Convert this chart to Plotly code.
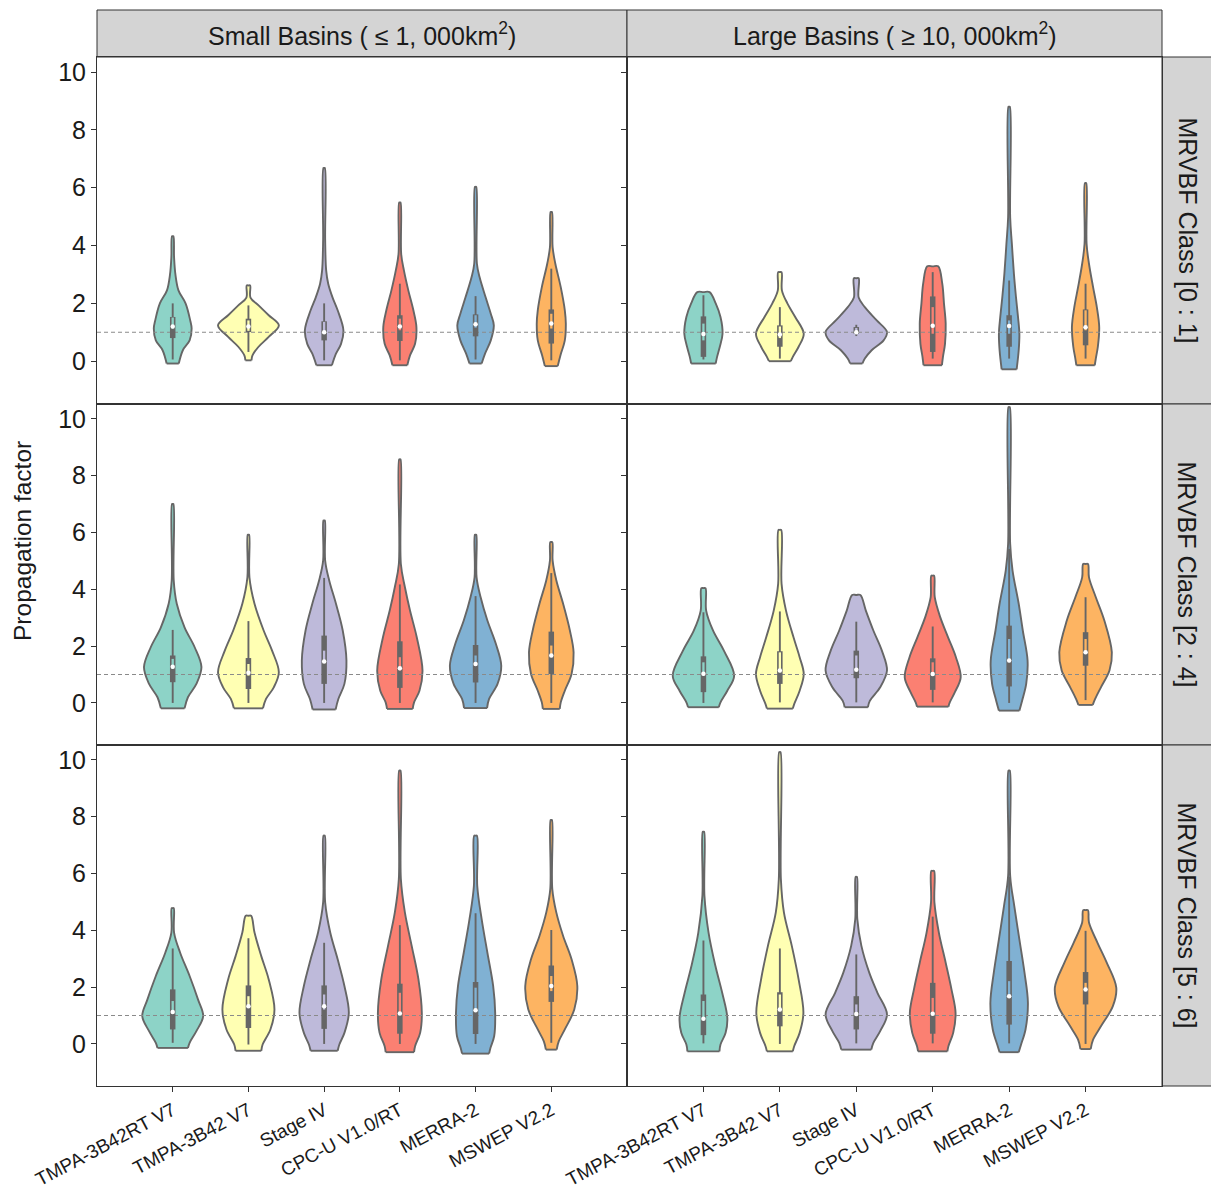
import plotly.graph_objects as go

# ---------------------------------------------------------------------------
# Data: propagation factor distributions per product, basin size and MRVBF class
# ---------------------------------------------------------------------------
PRODUCTS = ["TMPA-3B42RT V7", "TMPA-3B42 V7", "Stage IV", "CPC-U V1.0/RT", "MERRA-2", "MSWEP V2.2"]
FILLS = ["#8DD3C7", "#FFFFB3", "#BEBADA", "#FB8072", "#80B1D3", "#FDB462"]
BASIN_LABELS = ["Small Basins ( \u2264 1, 000km<sup>2</sup>)", "Large Basins ( \u2265 10, 000km<sup>2</sup>)"]
CLASS_LABELS = ["MRVBF Class [0 : 1]", "MRVBF Class [2 : 4]", "MRVBF Class [5 : 6]"]
Y_TICKS = [0, 2, 4, 6, 8, 10]
REFERENCE_LEVEL = 1.0

# density knots (value levels, bottom to top) and relative kernel density at each level
small_01_y = [
    [-0.08, 0.38, 0.72, 1.13, 1.4, 2.0, 2.45, 3.0, 3.6, 4.32],
    [0.03, 0.2, 0.5, 0.84, 1.24, 1.59, 1.93, 2.2, 2.62],
    [-0.14, 0.26, 0.6, 1.07, 1.76, 2.2, 2.68, 3.14, 4.2, 6.68],
    [-0.14, 0.2, 0.6, 1.18, 1.76, 2.45, 3.14, 3.7, 5.49],
    [-0.08, 0.26, 0.72, 1.24, 1.64, 2.2, 2.9, 3.37, 6.03],
    [-0.17, 0.2, 0.72, 1.3, 1.76, 2.56, 3.37, 3.94, 5.16],
]
small_01_d = [
    [18, 30, 50, 56, 52, 38, 17, 8, 4, 2],
    [9, 12, 30, 60, 90, 60, 30, 6, 5],
    [23, 35, 50, 57, 40, 25, 12, 6, 3, 2],
    [22, 30, 45, 49, 40, 25, 12, 4, 2],
    [18, 28, 45, 54, 45, 30, 12, 4, 2],
    [19, 27, 40, 43, 40, 28, 12, 4, 2],
]
large_01_y = [
    [-0.08, 0.15, 0.5, 0.95, 1.53, 2.0, 2.39],
    [0.0, 0.15, 0.5, 0.95, 1.53, 2.0, 2.45, 3.08],
    [-0.08, 0.09, 0.38, 0.72, 1.01, 1.41, 1.87, 2.2, 2.87],
    [-0.14, 0.15, 0.6, 1.3, 2.0, 2.68, 3.28],
    [-0.28, 0.38, 0.95, 1.53, 2.22, 3.02, 4.06, 4.98, 8.8],
    [-0.14, 0.09, 0.5, 1.18, 1.87, 2.56, 3.37, 4.06, 6.16],
]
large_01_d = [
    [36, 40, 48, 56, 50, 36, 18],
    [32, 38, 55, 70, 45, 22, 6, 5],
    [18, 25, 45, 80, 90, 60, 25, 7, 7],
    [27, 30, 36, 38, 33, 28, 16],
    [22, 28, 30, 26, 20, 14, 8, 3, 2],
    [27, 30, 36, 40, 33, 22, 10, 3, 2],
]
small_24_y = [
    [-0.19, 0.2, 0.67, 1.26, 1.96, 2.66, 3.49, 4.31, 7.0],
    [-0.19, 0.14, 0.55, 1.08, 1.84, 2.55, 3.49, 4.42, 5.92],
    [-0.23, 0.14, 0.67, 1.49, 2.55, 3.49, 4.31, 5.01, 6.42],
    [-0.21, 0.02, 0.43, 1.14, 2.31, 3.25, 4.07, 4.89, 8.57],
    [-0.18, 0.14, 0.67, 1.31, 2.08, 2.9, 3.72, 4.42, 5.92],
    [-0.21, 0.02, 0.43, 1.02, 1.78, 2.55, 3.49, 4.31, 5.01, 5.66],
]
small_24_d = [
    [35, 45, 70, 85, 65, 35, 12, 3, 2],
    [43, 52, 75, 90, 70, 45, 18, 3, 2],
    [34, 42, 60, 66, 55, 35, 15, 3, 2],
    [38, 42, 58, 67, 50, 30, 15, 3, 2],
    [34, 40, 65, 76, 60, 35, 15, 3, 2],
    [25, 28, 40, 60, 66, 55, 35, 15, 4, 3],
]
large_24_y = [
    [-0.15, 0.02, 0.43, 0.96, 1.84, 2.55, 3.25, 4.04],
    [-0.2, -0.04, 0.43, 1.02, 1.61, 2.31, 3.25, 4.19, 6.09],
    [-0.15, 0.08, 0.55, 1.14, 1.84, 2.55, 3.25, 3.8],
    [-0.13, 0.02, 0.38, 0.9, 1.61, 2.31, 3.02, 3.72, 4.48],
    [-0.27, 0.08, 0.67, 1.49, 2.55, 3.49, 4.66, 5.6, 10.41],
    [-0.07, 0.14, 0.55, 1.14, 1.78, 2.9, 3.72, 4.42, 4.89],
]
large_24_d = [
    [45, 50, 70, 90, 60, 28, 8, 6],
    [38, 42, 58, 70, 58, 40, 18, 5, 4],
    [34, 40, 70, 90, 75, 50, 28, 12],
    [46, 50, 65, 82, 68, 45, 22, 6, 4],
    [30, 38, 50, 54, 40, 28, 10, 3, 2],
    [21, 28, 45, 70, 77, 55, 30, 10, 7],
]
small_56_y = [
    [-0.14, 0.04, 0.45, 0.98, 1.56, 2.39, 3.21, 3.92, 4.78],
    [-0.24, -0.02, 0.51, 1.21, 2.27, 3.09, 3.92, 4.51],
    [-0.24, -0.02, 0.39, 1.09, 2.04, 2.98, 3.92, 4.98, 7.33],
    [-0.29, -0.08, 0.39, 1.09, 2.27, 3.45, 4.62, 5.8, 9.62],
    [-0.34, -0.14, 0.27, 1.09, 2.04, 3.21, 4.39, 5.56, 7.33],
    [-0.2, 0.09, 0.51, 1.21, 2.04, 2.98, 3.8, 4.62, 5.45, 7.88],
]
small_56_d = [
    [45, 50, 70, 90, 75, 50, 22, 4, 3],
    [38, 42, 65, 77, 60, 38, 18, 8],
    [40, 45, 60, 73, 60, 40, 18, 3, 2],
    [42, 45, 60, 65, 55, 35, 15, 3, 2],
    [40, 44, 55, 58, 52, 35, 18, 5, 4],
    [16, 22, 40, 68, 77, 60, 35, 15, 3, 2],
]
large_56_y = [
    [-0.26, -0.02, 0.39, 0.92, 1.8, 2.75, 3.92, 5.21, 7.47],
    [-0.26, -0.08, 0.39, 1.09, 2.27, 3.45, 4.62, 5.8, 10.27],
    [-0.2, 0.04, 0.45, 1.04, 1.8, 2.51, 3.45, 4.39, 5.88],
    [-0.26, -0.08, 0.39, 1.09, 1.92, 2.86, 3.92, 4.98, 6.09],
    [-0.29, -0.02, 0.51, 1.45, 2.51, 3.68, 4.86, 5.92, 9.62],
    [-0.18, 0.15, 0.62, 1.33, 1.98, 2.86, 3.56, 4.27, 4.71],
]
large_56_d = [
    [47, 50, 65, 70, 55, 35, 15, 3, 2],
    [38, 42, 58, 69, 55, 35, 12, 3, 2],
    [44, 50, 70, 90, 62, 38, 15, 3, 2],
    [43, 46, 60, 67, 55, 38, 18, 5, 4],
    [28, 35, 48, 55, 45, 30, 15, 3, 2],
    [15, 22, 45, 80, 90, 62, 35, 10, 7],
]

# box summaries: (whisker low, Q1, median, Q3, whisker high, notch low, notch high)
small_01_stats = [
    (0.06, 0.80, 1.20, 1.53, 2.00, 1.13, 1.51),
    (0.32, 1.01, 1.20, 1.47, 1.93, 1.05, 1.41),
    (0.03, 0.72, 1.00, 1.38, 2.00, 0.95, 1.36),
    (0.03, 0.70, 1.20, 1.59, 2.68, 1.07, 1.47),
    (0.06, 0.86, 1.28, 1.62, 2.25, 1.16, 1.59),
    (0.03, 0.61, 1.30, 1.79, 3.20, 1.13, 1.64),
]
large_01_stats = [
    (0.06, 0.15, 0.94, 1.55, 2.28, 0.72, 1.30),
    (0.09, 0.50, 0.92, 1.24, 1.87, 0.80, 1.20),
    (0.87, 0.95, 1.00, 1.18, 1.26, 0.98, 1.15),
    (0.09, 0.32, 1.23, 2.24, 3.08, 0.95, 1.87),
    (0.09, 0.50, 1.22, 1.59, 2.79, 0.95, 1.41),
    (0.09, 0.55, 1.17, 1.79, 2.68, 1.07, 1.76),
]
small_24_stats = [
    (0.00, 0.73, 1.27, 1.67, 2.57, 1.20, 1.55),
    (0.00, 0.49, 1.06, 1.58, 2.88, 0.96, 1.37),
    (0.00, 0.67, 1.46, 2.37, 4.40, 1.43, 1.84),
    (0.00, 0.53, 1.22, 2.17, 4.17, 1.14, 1.61),
    (0.00, 0.72, 1.37, 2.04, 3.76, 1.31, 1.67),
    (0.00, 1.02, 1.67, 2.51, 4.57, 1.61, 2.02),
]
large_24_stats = [
    (0.00, 0.38, 1.03, 1.64, 3.19, 0.96, 1.43),
    (0.02, 0.67, 1.14, 1.82, 3.22, 1.08, 1.78),
    (0.02, 0.87, 1.17, 1.84, 2.86, 1.14, 1.67),
    (0.02, 0.46, 1.02, 1.57, 2.69, 0.96, 1.43),
    (0.00, 0.58, 1.49, 2.72, 5.42, 1.43, 2.25),
    (0.10, 1.31, 1.78, 2.49, 3.72, 1.73, 2.25),
]
small_56_stats = [
    (0.04, 0.51, 1.12, 1.92, 3.36, 1.09, 1.51),
    (-0.02, 0.56, 1.33, 2.06, 3.72, 1.27, 1.68),
    (0.00, 0.53, 1.33, 2.06, 3.56, 1.21, 1.74),
    (0.00, 0.36, 1.07, 2.12, 4.18, 1.04, 1.80),
    (0.00, 0.35, 1.19, 2.18, 4.60, 1.15, 1.98),
    (0.04, 1.48, 2.04, 2.76, 4.01, 1.86, 2.39),
]
large_56_stats = [
    (0.02, 0.31, 0.89, 1.74, 3.64, 0.86, 1.51),
    (0.00, 0.62, 1.21, 1.82, 3.36, 1.15, 1.74),
    (0.02, 0.51, 1.05, 1.68, 3.15, 0.98, 1.39),
    (0.02, 0.36, 1.06, 2.15, 4.48, 1.04, 1.62),
    (0.02, 0.68, 1.68, 2.92, 5.88, 1.62, 2.21),
    (0.00, 1.39, 1.92, 2.53, 3.98, 1.86, 2.15),
]

# facet grid: rows = MRVBF class, cols = basin size
FACETS = [
    [(small_01_y, small_01_d, small_01_stats), (large_01_y, large_01_d, large_01_stats)],
    [(small_24_y, small_24_d, small_24_stats), (large_24_y, large_24_d, large_24_stats)],
    [(small_56_y, small_56_d, small_56_stats), (large_56_y, large_56_d, large_56_stats)],
]

# ---------------------------------------------------------------------------
# Layout geometry (pixels)
# ---------------------------------------------------------------------------
W, H = 1211, 1192
COL_PX = [(97, 627), (627, 1162)]
ROW_PX = [(57, 404), (404, 745), (745, 1086)]
STRIP_TOP_PX = (10, 57)
STRIP_RIGHT_PX = (1162, 1214)
Y_TITLE_PX = (22, 541)
Y_RANGE = [-1.48, 10.52]
X_RANGE = [-1.0, 6.0]
DENSITY_TO_HALFWIDTH = 1.0 / 224.0

OUTLINE = "#666666"
FRAME = "#333333"
TEXT = "#1a1a1a"
FONT = "Liberation Sans, Arial, sans-serif"


def px_x(p):
    return p / W


def px_y(p):
    return 1 - p / H


def outline_path(center, ys, ds):
    """Closed violin outline: right side upwards, flat top, left side downwards."""
    xr = [center + d * DENSITY_TO_HALFWIDTH for d in ds]
    xl = [center - d * DENSITY_TO_HALFWIDTH for d in reversed(ds)]
    # a centre knot on the top edge keeps a cut (flat) top from bulging
    xs = xr + [center] + xl
    yv = list(ys) + [ys[-1]] + list(reversed(ys))
    return xs, yv


fig = go.Figure()
layout_axes = {}

for r, row in enumerate(FACETS):
    for c, (levels, dens, stats) in enumerate(row):
        k = r * 2 + c + 1
        xa = "x" if k == 1 else f"x{k}"
        ya = "y" if k == 1 else f"y{k}"

        # violin bodies
        for i, (ys, ds) in enumerate(zip(levels, dens)):
            xs, yv = outline_path(i, ys, ds)
            fig.add_trace(go.Scatter(
                x=xs, y=yv, xaxis=xa, yaxis=ya, mode="lines", fill="toself",
                fillcolor=FILLS[i],
                line=dict(color=OUTLINE, width=1.9, shape="spline", smoothing=1.0),
                hoverinfo="skip", showlegend=False,
            ))
            hb = ds[0] * DENSITY_TO_HALFWIDTH
            fig.add_trace(go.Scatter(
                x=[i - hb, i + hb], y=[ys[0], ys[0]], xaxis=xa, yaxis=ya,
                mode="lines", line=dict(color=OUTLINE, width=1.9),
                hoverinfo="skip", showlegend=False,
            ))

        # reference line at a propagation factor of 1
        fig.add_trace(go.Scatter(
            x=X_RANGE, y=[REFERENCE_LEVEL, REFERENCE_LEVEL], xaxis=xa, yaxis=ya,
            mode="lines", line=dict(color="#8a8a8a", width=1.1, dash="4px,3px"),
            hoverinfo="skip", showlegend=False,
        ))

        # inner box plots
        for i, (lo, q1, med, q3, hi, nlo, nhi) in enumerate(stats):
            fig.add_trace(go.Scatter(
                x=[i, i], y=[lo, hi], xaxis=xa, yaxis=ya, mode="lines",
                line=dict(color=OUTLINE, width=1.9), hoverinfo="skip", showlegend=False,
            ))
            fig.add_trace(go.Scatter(
                x=[i, i], y=[q1, q3], xaxis=xa, yaxis=ya, mode="lines",
                line=dict(color=OUTLINE, width=5.5), hoverinfo="skip", showlegend=False,
            ))
            fig.add_trace(go.Scatter(
                x=[i, i], y=[nlo, nhi], xaxis=xa, yaxis=ya, mode="lines",
                line=dict(color=FILLS[i], width=2.3), hoverinfo="skip", showlegend=False,
            ))
            fig.add_trace(go.Scatter(
                x=[i], y=[med], xaxis=xa, yaxis=ya, mode="markers",
                marker=dict(color="white", size=4.5, line=dict(width=0)),
                hoverinfo="skip", showlegend=False,
            ))

        x0, x1 = COL_PX[c]
        y0, y1 = ROW_PX[r]
        bottom = r == len(FACETS) - 1
        layout_axes["xaxis" if k == 1 else f"xaxis{k}"] = dict(
            domain=[px_x(x0), px_x(x1)], anchor=ya, range=X_RANGE,
            automargin=False,
            showgrid=False, zeroline=False, showline=True, mirror=True,
            linecolor=FRAME, linewidth=1,
            tickmode="array", tickvals=list(range(len(PRODUCTS))), ticktext=PRODUCTS,
            ticks="outside" if bottom else "", ticklen=5, tickcolor=FRAME,
            showticklabels=bottom, tickangle=-28,
            tickfont=dict(family=FONT, size=19, color=TEXT),
        )
        layout_axes["yaxis" if k == 1 else f"yaxis{k}"] = dict(
            domain=[px_y(y1), px_y(y0)], anchor=xa, range=Y_RANGE,
            automargin=False,
            showgrid=False, zeroline=False, showline=True, mirror=True,
            linecolor=FRAME, linewidth=1,
            tickmode="array", tickvals=Y_TICKS,
            ticks="outside", ticklen=5, tickcolor=FRAME,
            showticklabels=(c == 0),
            tickfont=dict(family=FONT, size=25, color=TEXT),
        )

shapes = []
annotations = []

# column strips
for c, label in enumerate(BASIN_LABELS):
    x0, x1 = COL_PX[c]
    shapes.append(dict(type="rect", xref="paper", yref="paper",
                       x0=px_x(x0), x1=px_x(x1), y0=px_y(STRIP_TOP_PX[1]), y1=px_y(STRIP_TOP_PX[0]),
                       fillcolor="#D4D4D4", line=dict(color=FRAME, width=1), layer="below"))
    annotations.append(dict(xref="paper", yref="paper",
                            x=px_x((x0 + x1) / 2), y=px_y(sum(STRIP_TOP_PX) / 2),
                            text=label, showarrow=False, xanchor="center", yanchor="middle",
                            font=dict(family=FONT, size=25, color=TEXT)))

# row strips
for r, label in enumerate(CLASS_LABELS):
    y0, y1 = ROW_PX[r]
    shapes.append(dict(type="rect", xref="paper", yref="paper",
                       x0=px_x(STRIP_RIGHT_PX[0]), x1=px_x(STRIP_RIGHT_PX[1]),
                       y0=px_y(y1), y1=px_y(y0),
                       fillcolor="#D4D4D4", line=dict(color=FRAME, width=1), layer="below"))
    annotations.append(dict(xref="paper", yref="paper",
                            x=px_x(1187), y=px_y((y0 + y1) / 2),
                            text=label, showarrow=False, textangle=90,
                            xanchor="center", yanchor="middle",
                            font=dict(family=FONT, size=25, color=TEXT)))

# shared y-axis title
annotations.append(dict(xref="paper", yref="paper", x=px_x(Y_TITLE_PX[0]),
                        y=px_y(Y_TITLE_PX[1]),
                        text="Propagation factor", showarrow=False, textangle=-90,
                        xanchor="center", yanchor="middle",
                        font=dict(family=FONT, size=24.5, color=TEXT)))

fig.update_layout(
    width=W, height=H,
    margin=dict(l=0, r=0, t=0, b=0, autoexpand=False),
    paper_bgcolor="white", plot_bgcolor="white",
    showlegend=False,
    shapes=shapes, annotations=annotations,
    font=dict(family=FONT),
    **layout_axes,
)

fig.write_html("out.html")
